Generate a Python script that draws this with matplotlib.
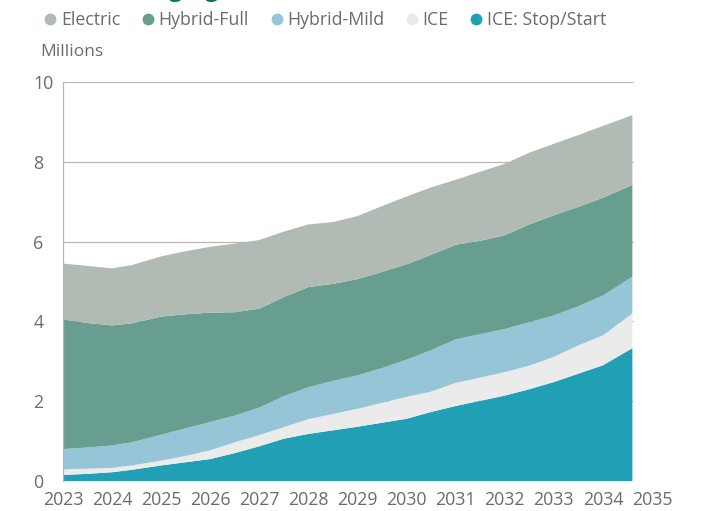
import numpy as np
import matplotlib
matplotlib.use("Agg")
import matplotlib.pyplot as plt
from matplotlib.lines import Line2D

plt.rcParams['font.family'] = ['Open Sans', 'DejaVu Sans']

# Fleet by powertrain, millions of vehicles (half-year readings)
years = [2023.0, 2023.5, 2024.0, 2024.4, 2025.0, 2025.5, 2026.0, 2026.5,
         2027.0, 2027.5, 2028.0, 2028.5, 2029.0, 2029.5, 2030.0, 2030.5,
         2031.0, 2031.5, 2032.0, 2032.5, 2033.0, 2033.5, 2034.0, 2034.6]

ice_stop_start = [0.15, 0.18, 0.22, 0.28, 0.39, 0.47, 0.55, 0.70, 0.87, 1.06, 1.18, 1.27,
                  1.36, 1.46, 1.56, 1.73, 1.88, 2.01, 2.14, 2.30, 2.48, 2.69, 2.90, 3.33]
ice = [0.14, 0.13, 0.11, 0.11, 0.12, 0.16, 0.22, 0.27, 0.28, 0.29, 0.37, 0.41,
       0.45, 0.50, 0.55, 0.51, 0.58, 0.58, 0.59, 0.59, 0.63, 0.71, 0.75, 0.87]
hybrid_mild = [0.51, 0.53, 0.56, 0.58, 0.65, 0.69, 0.71, 0.67, 0.69, 0.78, 0.80, 0.83,
               0.84, 0.87, 0.93, 1.04, 1.09, 1.09, 1.08, 1.09, 1.04, 0.98, 1.00, 0.92]
hybrid_full = [3.25, 3.12, 3.01, 2.98, 2.96, 2.86, 2.74, 2.59, 2.48, 2.48, 2.51, 2.43,
               2.41, 2.41, 2.39, 2.39, 2.37, 2.34, 2.35, 2.45, 2.51, 2.49, 2.45, 2.30]
electric = [1.40, 1.43, 1.43, 1.46, 1.51, 1.58, 1.65, 1.72, 1.72, 1.64, 1.57, 1.55,
            1.58, 1.65, 1.70, 1.69, 1.63, 1.73, 1.79, 1.80, 1.79, 1.80, 1.80, 1.75]

labels = ['Electric', 'Hybrid-Full', 'Hybrid-Mild', 'ICE', 'ICE: Stop/Start']
colors = {'Electric': '#b1bbb3', 'Hybrid-Full': '#679e8f', 'Hybrid-Mild': '#96c5d7',
          'ICE': '#ebebeb', 'ICE: Stop/Start': '#219fb4'}
x_ticks = list(range(2023, 2036))
y_ticks = [0, 2, 4, 6, 8, 10]

text_col = '#6b6b6b'
grid_col = '#b8b8b8'

fig = plt.figure(figsize=(7.07, 5.11), dpi=100)
ax = fig.add_axes([63 / 707, 1 - 481 / 511, (652 - 63) / 707, (481 - 82) / 511])

# gridlines only run as far as the data
for yv in y_ticks[1:]:
    ax.hlines(yv, years[0], years[-1] + 0.02, color=grid_col, lw=0.9, zorder=0)

stack = [ice_stop_start, ice, hybrid_mild, hybrid_full, electric]
stack_names = ['ICE: Stop/Start', 'ICE', 'Hybrid-Mild', 'Hybrid-Full', 'Electric']
ax.stackplot(years, *stack, colors=[colors[n] for n in stack_names],
             linewidth=0, zorder=2)

ax.set_xlim(2023, 2035)
ax.set_ylim(0, 10)
ax.set_xticks(x_ticks)
ax.set_yticks(y_ticks)
ax.tick_params(axis='x', length=0, pad=7.5, labelsize=12.8, labelcolor=text_col)
ax.tick_params(axis='y', length=0, pad=21.5, labelsize=12.8, labelcolor=text_col)
for lab in ax.get_yticklabels():
    lab.set_horizontalalignment('left')

for s in ['top', 'right', 'bottom']:
    ax.spines[s].set_visible(False)
ax.spines['left'].set_color(grid_col)
ax.spines['left'].set_linewidth(0.9)
ax.spines['left'].set_zorder(3)

fig.text(40 / 707, 1 - 52 / 511, 'Millions', fontsize=12.5, color=text_col,
         va='center', ha='left')

# title sits almost entirely above the canvas
fig.text(62 / 707, 1 + 4 / 511, 'The changing fleet', fontsize=17, fontweight='bold',
         color='#007a60', va='baseline', ha='left')

handles = [Line2D([], [], ls='none', marker='o', markersize=8.5,
                  markerfacecolor=colors[n], markeredgecolor='none') for n in labels]
fig.legend(handles, labels, loc='center left', bbox_to_anchor=(38 / 707, 1 - 20 / 511),
           ncol=5, frameon=False, fontsize=12.8, labelcolor=text_col,
           handlelength=0.6, handletextpad=0.3, columnspacing=1.25, borderaxespad=0)

fig.savefig('out.png', dpi=100)
